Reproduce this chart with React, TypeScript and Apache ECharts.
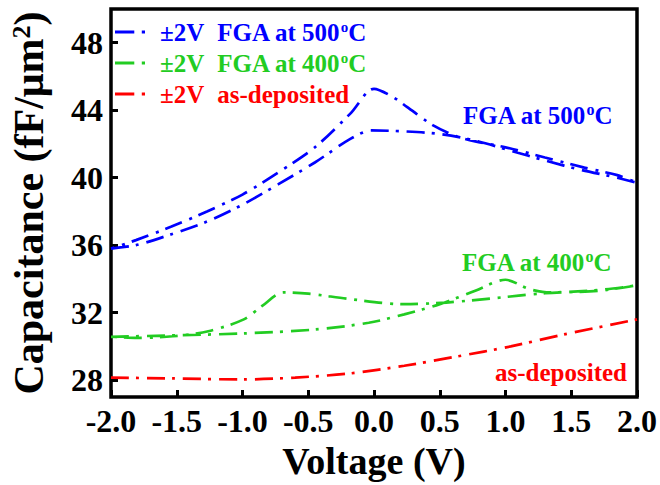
import React, { useEffect, useRef } from 'react';
import * as echarts from 'echarts';

const FONT = '"Liberation Serif", "Times New Roman", serif';
const BLUE = '#0000ff';
const GREEN = '#22cc22';
const RED = '#ff0000';

const seriesNames = ['FGA at 500', 'FGA at 400', 'as-deposited'];

// FGA 500 °C : forward sweep (-2 → 2 V) and reverse sweep (2 → -2 V)
const blueForwardV = [-2.0, -1.81, -1.54, -1.27, -1.0, -0.73, -0.45, -0.18, -0.02, 0.22, 0.49, 0.77, 1.04, 1.31, 1.58, 1.85, 2.0];
const blueForwardC = [35.8, 36.0, 36.65, 37.4, 38.4, 39.6, 40.9, 42.3, 42.8, 42.75, 42.6, 42.2, 41.6, 41.0, 40.45, 40.0, 39.7];
const blueReverseV = [2.0, 1.85, 1.6, 1.3, 1.0, 0.77, 0.63, 0.45, 0.25, 0.14, 0.0, -0.18, -0.45, -0.73, -1.0, -1.27, -1.54, -1.81, -2.0];
const blueReverseC = [39.7, 40.15, 40.6, 41.2, 41.8, 42.15, 42.45, 43.1, 44.2, 44.8, 45.27, 43.8, 41.8, 40.3, 39.0, 38.0, 37.1, 36.3, 35.8];

// FGA 400 °C
const greenForwardV = [-2.0, -1.53, -0.99, -0.45, -0.04, 0.23, 0.5, 0.77, 1.0, 1.18, 1.34, 1.72, 2.0];
const greenForwardC = [30.57, 30.65, 30.77, 31.0, 31.4, 31.9, 32.5, 33.3, 33.95, 33.4, 33.2, 33.35, 33.62];
const greenReverseV = [2.0, 1.72, 1.3, 0.9, 0.55, 0.23, -0.18, -0.5, -0.69, -0.85, -0.99, -1.26, -1.53, -1.8, -2.0];
const greenReverseC = [33.62, 33.3, 33.15, 32.85, 32.6, 32.5, 32.8, 33.13, 33.2, 32.4, 31.6, 30.9, 30.6, 30.5, 30.57];

// as-deposited
const redV = [-2.0, -1.53, -0.99, -0.6, -0.18, 0.23, 0.63, 1.04, 1.44, 2.0];
const redC = [28.15, 28.1, 28.04, 28.15, 28.4, 28.85, 29.4, 30.0, 30.7, 31.6];

const yTicks = [28, 32, 36, 40, 44, 48];

const pairs = (vs: number[], cs: number[]) => vs.map((v, i) => [v, cs[i]]);
const loop = (fv: number[], fc: number[], rv: number[], rc: number[]) => [
  ...pairs(fv, fc),
  ...pairs(rv, rc).slice(1),
];

const DASH = [18, 7, 3, 8];

function richFor(color: string, size: number, supSize: number, lh: number) {
  return {
    v: { color, fill: color, fontSize: size, fontWeight: 'bold', fontFamily: FONT, lineHeight: lh, padding: [0, 13, 0, 0] },
    t: { color, fill: color, fontSize: size, fontWeight: 'bold', fontFamily: FONT, lineHeight: lh },
    s: { color, fill: color, fontSize: supSize, fontWeight: 'bold', fontFamily: FONT, verticalAlign: 'top' },
  };
}

export default function App() {
  const ref = useRef<HTMLDivElement>(null);
  useEffect(() => {
    if (!ref.current) return;
    const chart = echarts.init(ref.current, undefined, { renderer: 'svg' });
    const colors = [BLUE, GREEN, RED];
    const keys = ['b', 'g', 'r'];
    const legendRich: any = {};
    colors.forEach((c, i) => {
      const r = richFor(c, 25, 15, 26);
      legendRich['v' + keys[i]] = r.v;
      legendRich['t' + keys[i]] = r.t;
      legendRich['s' + keys[i]] = r.s;
    });
    const legendFormatter = (name: string) => {
      const i = seriesNames.indexOf(name);
      const k = keys[i];
      if (i === 2) return `{v${k}|±2V}{t${k}|as-deposited}`;
      return `{v${k}|±2V}{t${k}|${name}}{s${k}|o}{t${k}|C}`;
    };
    const annRich = (c: string) => {
      const r = richFor(c, 25, 16, 28);
      return { t: r.t, s: r.s };
    };
    const option: any = {
      animation: false,
      backgroundColor: '#ffffff',
      grid: {
        left: 108,
        right: 22,
        top: 9,
        bottom: 88,
        show: true,
        borderColor: '#000',
        borderWidth: 3.5,
        backgroundColor: 'transparent',
      },
      legend: {
        orient: 'vertical',
        left: 110,
        top: 14,
        itemWidth: 30,
        itemHeight: 3,
        itemGap: 5,
        symbolKeepAspect: false,
        icon: 'path://M0 0H18V3H0Z M25 0H28V3H25Z',
        data: seriesNames,
        formatter: legendFormatter,
        textStyle: {
          fontFamily: FONT,
          fontWeight: 'bold',
          fontSize: 25,
          lineHeight: 26,
          padding: [0, 0, 0, 10],
          rich: legendRich,
        },
      },
      xAxis: {
        type: 'value',
        min: -2,
        max: 2,
        interval: 0.5,
        axisLine: { show: false, onZero: false },
        splitLine: { show: false },
        axisTick: { show: true, inside: true, length: 7, lineStyle: { width: 3, color: '#000' } },
        axisLabel: {
          formatter: (v: number) => v.toFixed(1),
          fontSize: 32,
          fontWeight: 'bold',
          fontFamily: FONT,
          color: '#000',
          margin: 8,
        },
        name: 'Voltage (V)',
        nameLocation: 'middle',
        nameGap: 40,
        nameTextStyle: { fontSize: 38, fontWeight: 'bold', fontFamily: FONT, color: '#000' },
      },
      yAxis: {
        type: 'value',
        min: 27,
        max: 50,
        axisLine: { show: false, onZero: false },
        splitLine: { show: false },
        axisTick: {
          show: true,
          inside: true,
          length: 7,
          customValues: yTicks,
          lineStyle: { width: 3, color: '#000' },
        },
        axisLabel: {
          customValues: yTicks,
          fontSize: 32,
          fontWeight: 'bold',
          fontFamily: FONT,
          color: '#000',
          margin: 8,
        },
        name: '{a|Capacitance (fF/μm}{b|2}{a|)}',
        nameLocation: 'middle',
        nameGap: 61,
        nameTextStyle: {
          fontSize: 42,
          fontWeight: 'bold',
          fontFamily: FONT,
          color: '#000',
          rich: {
            a: { fontSize: 42, fontWeight: 'bold', fontFamily: FONT, color: '#000', lineHeight: 42 },
            b: { fontSize: 26, fontWeight: 'bold', fontFamily: FONT, color: '#000', verticalAlign: 'top' },
          },
        },
      },
      series: [
        {
          name: seriesNames[0],
          type: 'line',
          data: loop(blueForwardV, blueForwardC, blueReverseV, blueReverseC),
          smooth: 0.3,
          symbol: 'none',
          itemStyle: { color: BLUE },
          lineStyle: { color: BLUE, width: 2.7, type: DASH, cap: 'butt' },
        },
        {
          name: seriesNames[1],
          type: 'line',
          data: loop(greenForwardV, greenForwardC, greenReverseV, greenReverseC),
          smooth: 0.3,
          symbol: 'none',
          itemStyle: { color: GREEN },
          lineStyle: { color: GREEN, width: 2.7, type: DASH, cap: 'butt' },
        },
        {
          name: seriesNames[2],
          type: 'line',
          data: pairs(redV, redC),
          smooth: 0.3,
          symbol: 'none',
          itemStyle: { color: RED },
          lineStyle: { color: RED, width: 2.7, type: DASH, cap: 'butt' },
        },
      ],
      graphic: [
        {
          type: 'text',
          x: 463,
          y: 115,
          style: {
            text: '{t|FGA at 500}{s|o}{t|C}',
            rich: annRich(BLUE),
            align: 'left',
            verticalAlign: 'middle',
          },
        },
        {
          type: 'text',
          x: 462,
          y: 262,
          style: {
            text: '{t|FGA at 400}{s|o}{t|C}',
            rich: annRich(GREEN),
            align: 'left',
            verticalAlign: 'middle',
          },
        },
        {
          type: 'text',
          x: 495,
          y: 372,
          style: {
            text: '{t|as-deposited}',
            rich: annRich(RED),
            align: 'left',
            verticalAlign: 'middle',
          },
        },
      ],
    };
    chart.setOption(option);
    return () => chart.dispose();
  }, []);
  return (
    <div
      ref={ref}
      style={{ position: 'absolute', left: 0, top: 0, width: 660, height: 485, background: '#fff' }}
    />
  );
}
